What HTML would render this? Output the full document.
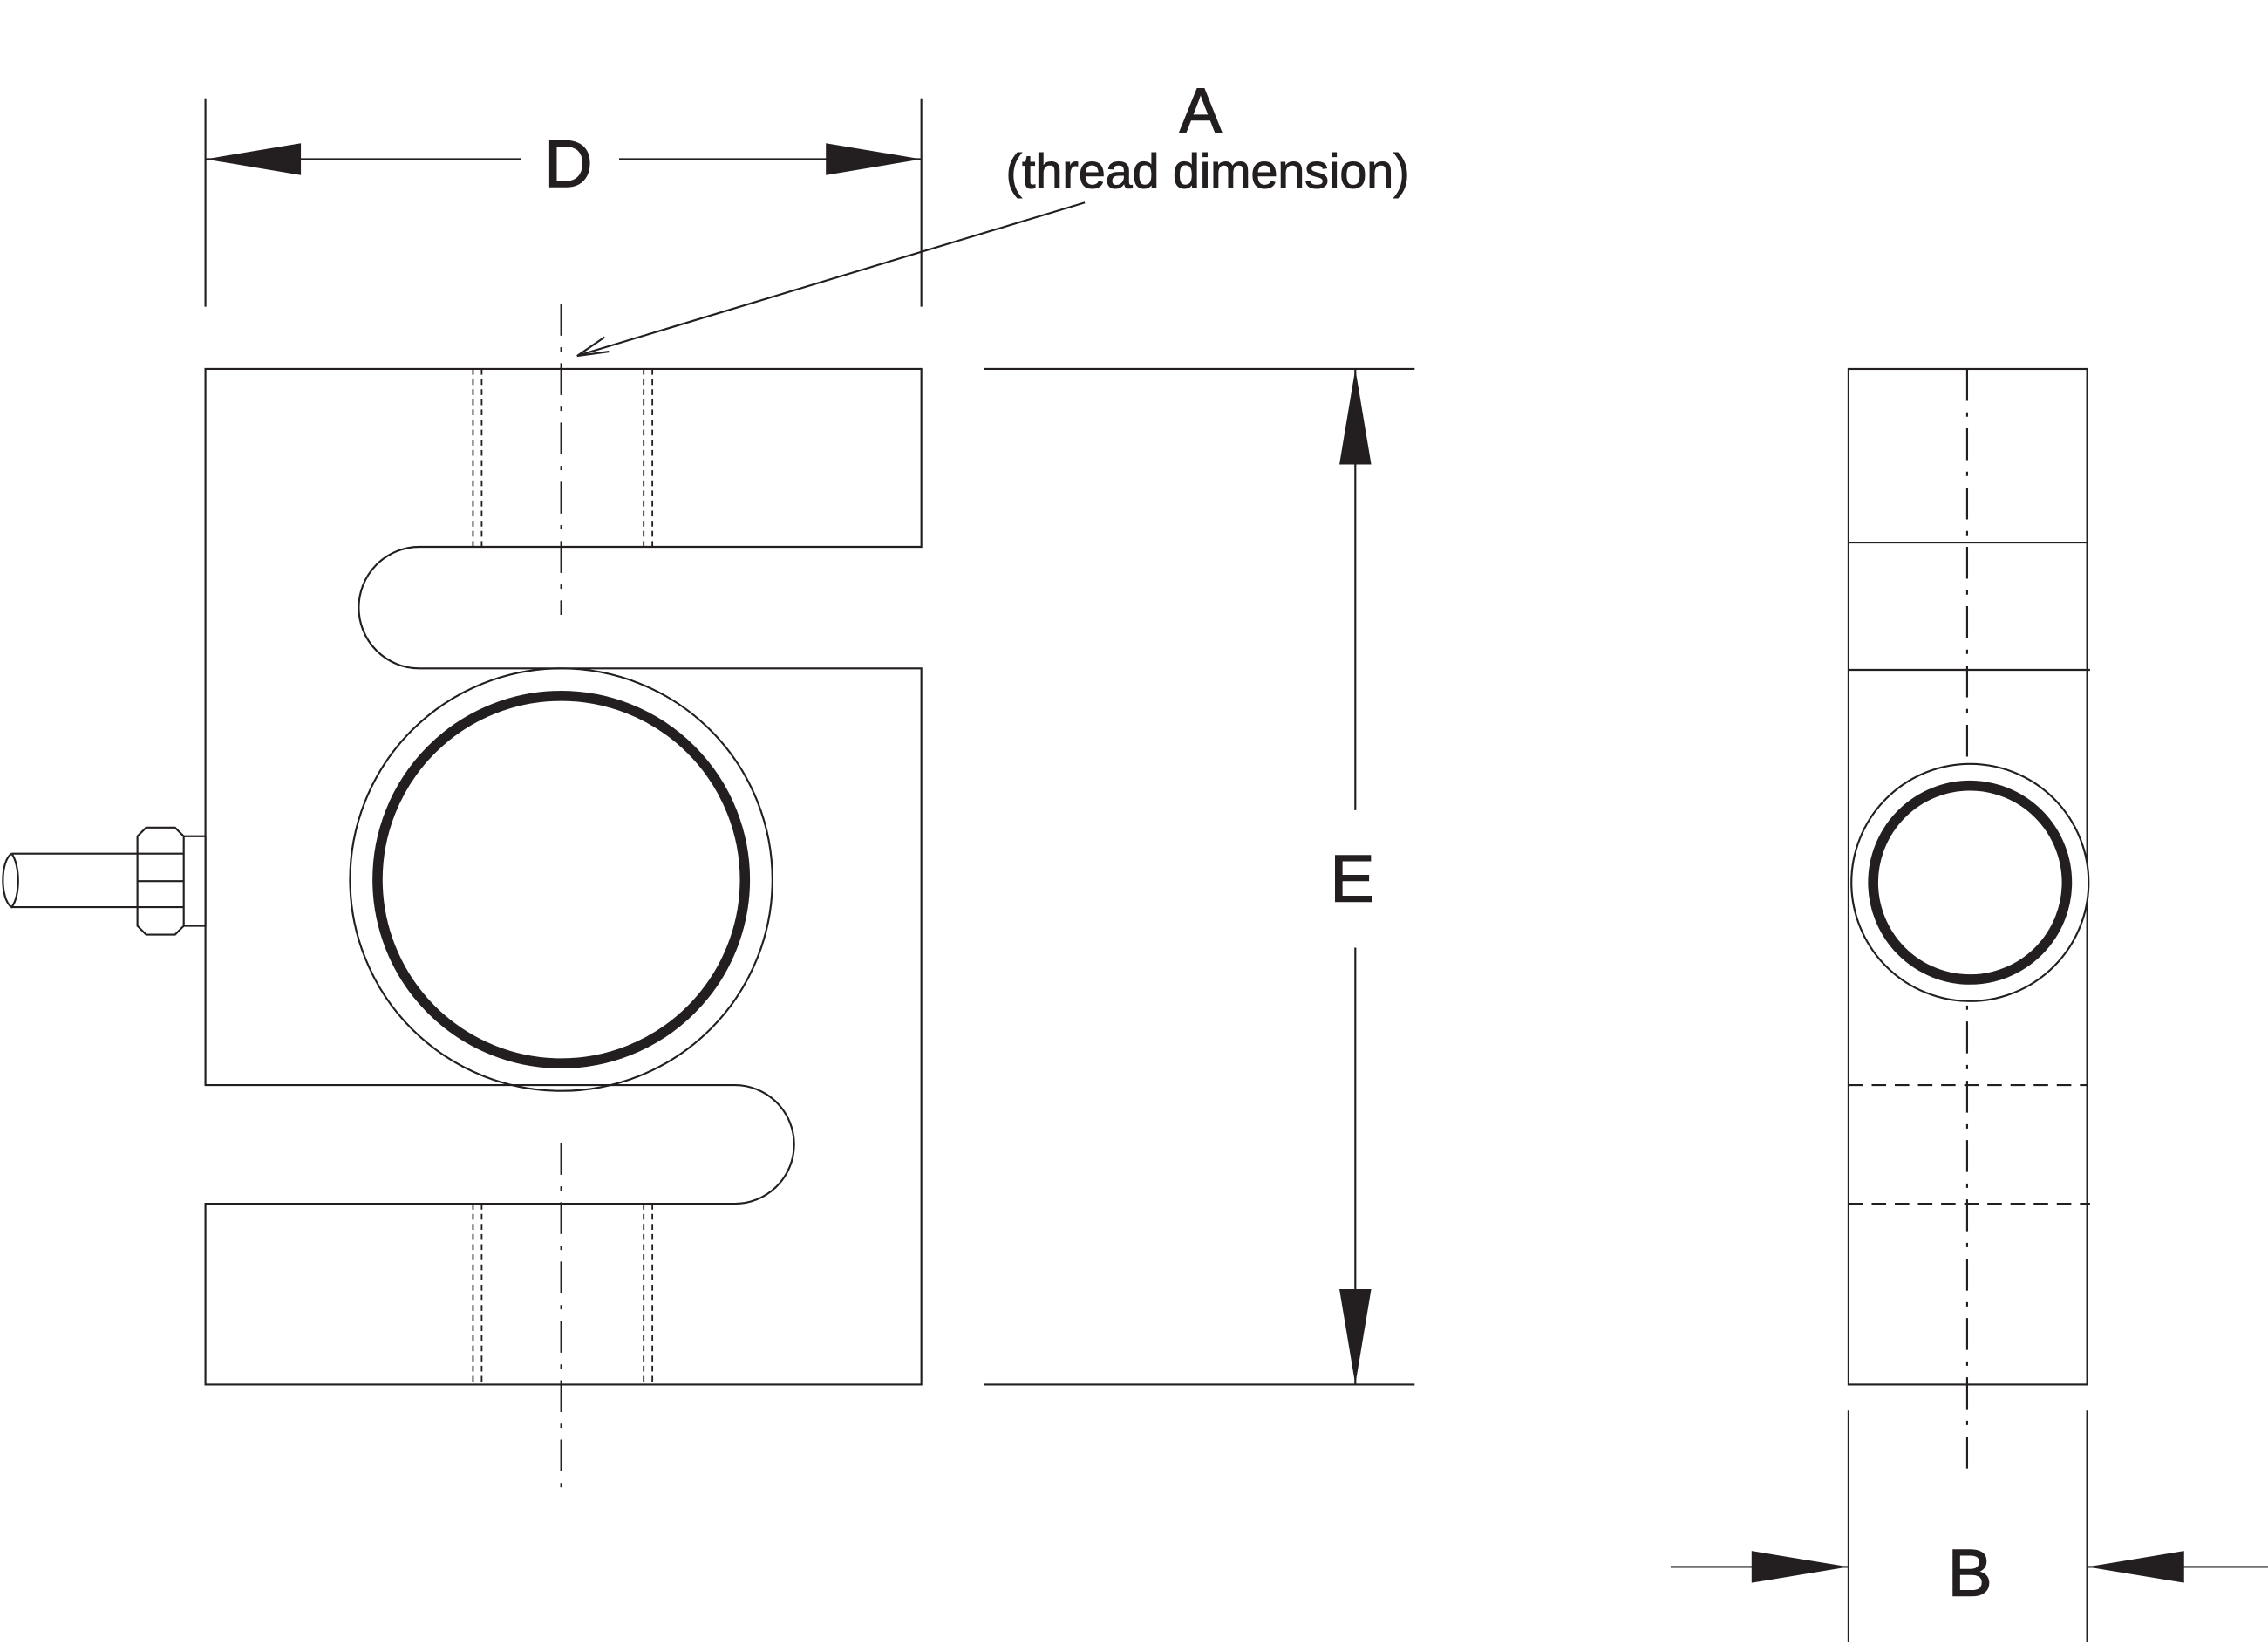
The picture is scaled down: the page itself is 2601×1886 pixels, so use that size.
<!DOCTYPE html>
<html><head><meta charset="utf-8"><style>
html,body{margin:0;padding:0;background:#fff;}
svg{display:block;}
text{font-family:"Liberation Sans",sans-serif;fill:#231f20;stroke:#231f20;stroke-width:0.9;}
</style></head><body>
<svg width="2601" height="1886" viewBox="0 0 1568 1137" xmlns="http://www.w3.org/2000/svg">
<g stroke="#231f20" fill="none" stroke-width="1.3">
<line x1="142" y1="68" x2="142" y2="212"/>
<line x1="637" y1="68" x2="637" y2="212"/>
<line x1="142" y1="110" x2="360" y2="110"/>
<line x1="428" y1="110" x2="637" y2="110"/>
<line x1="750" y1="140" x2="402" y2="245"/>
<polyline points="418,233 399,246 421,243"/>
<path d="M142,255 H637 V378 H290 A42,42 0 0 0 290,462 H637 V957 H142 V832 H508 A41,41 0 0 0 508,750 H142 Z"/>
<g stroke-dasharray="4,3" stroke-width="1.1">
<line x1="327" y1="255" x2="327" y2="378"/><line x1="333" y1="255" x2="333" y2="378"/>
<line x1="445" y1="255" x2="445" y2="378"/><line x1="451" y1="255" x2="451" y2="378"/>
<line x1="327" y1="832" x2="327" y2="957"/><line x1="333" y1="832" x2="333" y2="957"/>
<line x1="445" y1="832" x2="445" y2="957"/><line x1="451" y1="832" x2="451" y2="957"/>
</g>
<g stroke-dasharray="22,8,3,8">
<line x1="388" y1="210" x2="388" y2="425"/>
<line x1="388" y1="790" x2="388" y2="1032"/>
<line x1="1360" y1="255" x2="1360" y2="1015"/>
</g>
<circle cx="388" cy="608" r="146"/>
<circle cx="388" cy="608" r="127" stroke-width="7"/>
<path d="M127,578 H142 V640 H127"/>
<path d="M95,578 L101,572 H121 L127,578 V640 L121,646 H101 L95,640 Z"/>
<line x1="95" y1="590" x2="127" y2="590"/><line x1="95" y1="627" x2="127" y2="627"/>
<line x1="95" y1="609" x2="127" y2="609"/>
<line x1="8" y1="590" x2="95" y2="590"/><line x1="8" y1="627" x2="95" y2="627"/>
<path d="M8,590 C0,595 0,622 8,627 C14,620 14,598 8,590"/>
<line x1="680" y1="255" x2="978" y2="255"/>
<line x1="680" y1="957" x2="978" y2="957"/>
<line x1="937" y1="255" x2="937" y2="560"/>
<line x1="937" y1="655" x2="937" y2="957"/>
<rect x="1278" y="255" width="165" height="702"/>
<line x1="1278" y1="375" x2="1443" y2="375"/>
<line x1="1278" y1="463" x2="1445" y2="463"/>
<g stroke-dasharray="10,6">
<line x1="1278" y1="750" x2="1443" y2="750"/>
<line x1="1278" y1="832" x2="1445" y2="832"/>
</g>
<circle cx="1362" cy="610" r="82" fill="#fff"/>
<circle cx="1362" cy="610" r="67" stroke-width="7"/>
<line x1="1278" y1="975" x2="1278" y2="1135"/>
<line x1="1443" y1="975" x2="1443" y2="1135"/>
<line x1="1155" y1="1083" x2="1278" y2="1083"/>
<line x1="1443" y1="1083" x2="1568" y2="1083"/>
</g>
<g fill="#231f20">
<polygon points="142,110 208,99 208,121"/>
<polygon points="637,110 571,99 571,121"/>
<polygon points="937,255 926,321 948,321"/>
<polygon points="937,957 926,891 948,891"/>
<polygon points="1278,1083 1211,1072 1211,1094"/>
<polygon points="1443,1083 1510,1072 1510,1094"/>
</g>
<text x="393" y="129" font-size="46" text-anchor="middle">D</text>
<text x="830" y="92" font-size="44" text-anchor="middle">A</text>
<text x="835" y="130" font-size="33.5" text-anchor="middle" style="stroke-width:0.6">(thread dimension)</text>
<text x="935" y="623" font-size="46" text-anchor="middle">E</text>
<text x="1362" y="1103" font-size="46" text-anchor="middle">B</text>
</svg>
</body></html>
